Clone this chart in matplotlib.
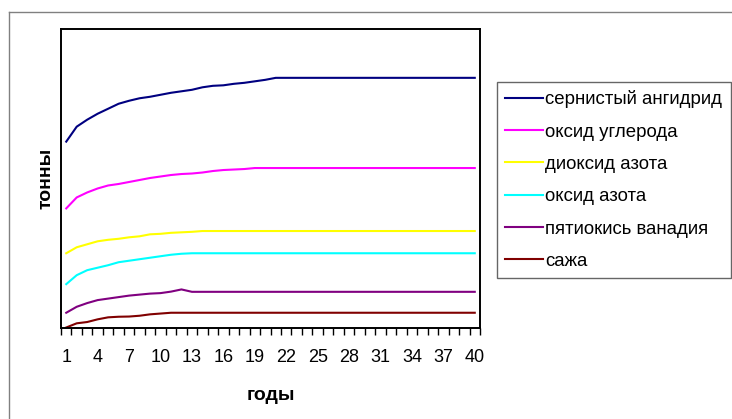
import matplotlib
matplotlib.use("Agg")
import matplotlib.pyplot as plt
from matplotlib.lines import Line2D

plt.rcParams['font.family'] = ['Liberation Sans', 'DejaVu Sans']

years = list(range(1, 41))
tick_years = list(range(1, 41, 3))

series_names = ["сернистый ангидрид", "оксид углерода", "диоксид азота",
                "оксид азота", "пятиокись ванадия", "сажа"]

so2 = [187, 202, 209, 215, 220, 225, 228, 230.5, 232, 234, 236, 237.5, 239, 241.5,
       243, 243.5, 245, 246, 247.5, 249, 251] + [251] * 19
co = [120, 131, 136, 140, 143, 144.5, 146.5, 148.5, 150.5, 152, 153.5, 154.5, 155,
      156, 157.5, 158.5, 159, 159.5, 160.5] + [160.5] * 21
no2 = [75, 81, 84, 87, 88.5, 89.5, 91, 92, 94, 94.5, 95.5, 96, 96.5, 97.3] + [97.3] * 26
no = [44, 53, 58, 60.5, 63, 66, 67.5, 69, 70.5, 72, 73.5, 74.5, 75] + [75] * 27
v2o5 = [15.3, 21.3, 25, 28, 29.5, 31, 32.5, 33.5, 34.5, 35, 36.5, 38.7, 36.3] + [36.3] * 27
soot = [0.5, 4.7, 6, 8.7, 10.7, 11.3, 11.5, 12.3, 13.7, 14.5, 15.3] + [15.3] * 29

series = [so2, co, no2, no, v2o5, soot]
colors = ["#000080", "#FF00FF", "#FFFF00", "#00FFFF", "#800080", "#800000"]

W, H = 732, 419
fig = plt.figure(figsize=(W / 100, H / 100), dpi=100)

# outer chart border
fig.add_artist(Line2D([9 / W, 9 / W], [0, 1 - 12 / H], transform=fig.transFigure,
                      color="#808080", lw=1.0))
fig.add_artist(Line2D([9 / W, 731 / W], [1 - 12 / H, 1 - 12 / H], transform=fig.transFigure,
                      color="#808080", lw=1.0))

ax = fig.add_axes([61 / W, 1 - 328 / H, (480 - 61) / W, (328 - 29) / H])

for name, vals, c in zip(series_names, series, colors):
    ax.plot(years, vals, color=c, lw=1.5, label=name)

ax.set_xlim(0.5, 40.5)
ax.set_ylim(0, 300)
ax.set_yticks([])

ax.set_xticks(tick_years)
ax.set_xticklabels([str(t) for t in tick_years], fontsize=13)
ax.set_xticks([i + 0.5 for i in range(0, 41)], minor=True)
ax.tick_params(axis='x', which='major', length=0, pad=15)
ax.tick_params(axis='x', which='minor', length=5, width=1, color="#000000", direction='out')

for s in ax.spines.values():
    s.set_color("black")
    s.set_linewidth(1.4)

ax.set_xlabel("годы", fontsize=14, fontweight="bold", labelpad=15)
ax.set_ylabel("тонны", fontsize=14, fontweight="bold", labelpad=5)

leg = fig.legend(loc="upper left", bbox_to_anchor=(497 / W, 1 - 82 / H, (731 - 497) / W, 0.0),
                 mode="expand", fontsize=13.4, frameon=True, fancybox=False,
                 handlelength=2.0, handletextpad=0.12, labelspacing=0.82,
                 borderpad=0.45, borderaxespad=0.0)
leg.get_frame().set_edgecolor("#404040")
leg.get_frame().set_linewidth(1.0)

fig.savefig("out.png", dpi=100)
